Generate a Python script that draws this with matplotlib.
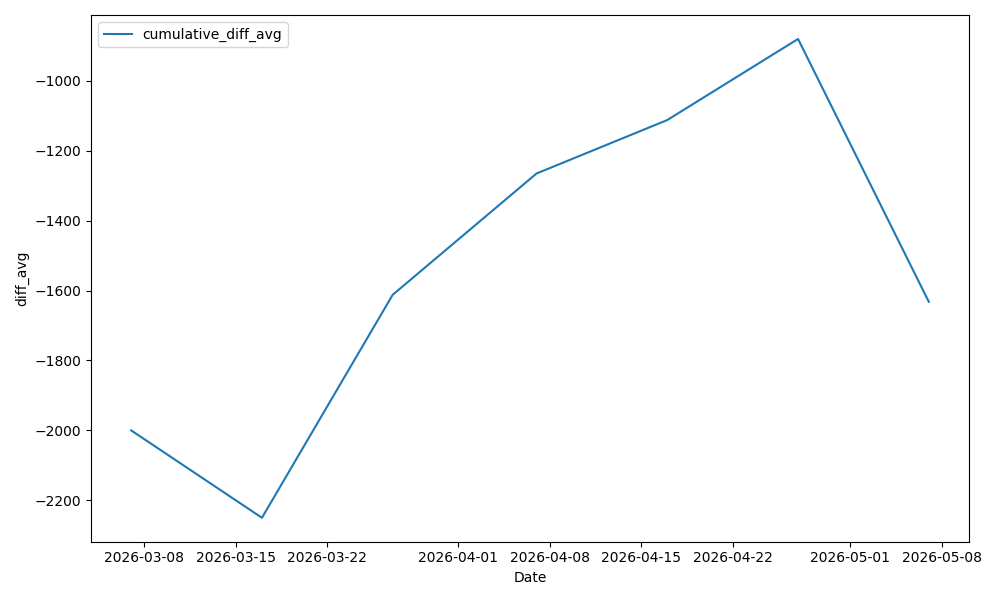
import matplotlib
matplotlib.use("Agg")
import matplotlib.pyplot as plt
import pandas as pd

dates = ["2026-03-07", "2026-03-17", "2026-03-27", "2026-04-07",
         "2026-04-17", "2026-04-27", "2026-05-07"]
cumulative_diff_avg = [-2000, -2250, -1612, -1265, -1112, -880, -1632]

x = pd.to_datetime(dates)

fig, ax = plt.subplots(figsize=(10, 6), dpi=100)
ax.plot(x, cumulative_diff_avg, color="#1f77b4", label="cumulative_diff_avg")
ax.set_xlabel("Date")
ax.set_ylabel("diff_avg")
ax.legend(loc="upper left")
fig.tight_layout()
fig.savefig("out.png", dpi=100)
